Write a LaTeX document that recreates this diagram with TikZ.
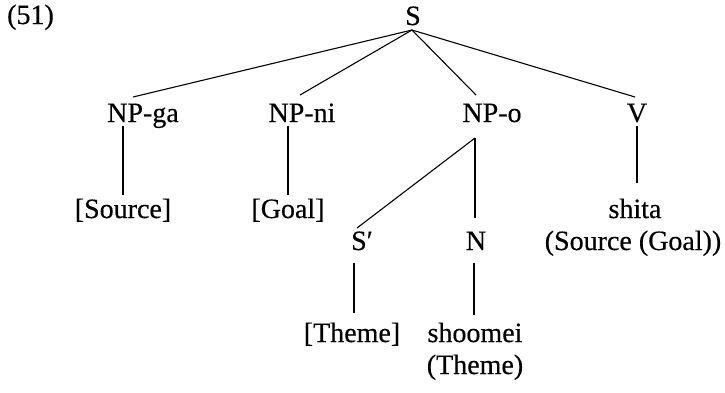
\documentclass[tikz,border=0pt]{standalone}
\usepackage{fontspec}
\setmainfont{Liberation Serif}
\newfontfamily\treefont{Liberation Serif}[FakeBold=0.4]
\begin{document}
\begin{tikzpicture}[x=1pt,y=-1pt,
  lab/.style={inner sep=0pt,anchor=base,font=\treefont\fontsize{28}{33}\selectfont},
  edge/.style={line width=1.1pt,black}]
\useasboundingbox (0,0) rectangle (725,392);
% labels
\node[lab,anchor=base west] (ex) at (7,24) {(51)};
\node[lab] (S) at (413,25) {S};
\node[lab] (npga) at (143,122) {NP-ga};
\node[lab] (npni) at (302,122) {NP-ni};
\node[lab] (npo) at (492,122) {NP-o};
\node[lab] (V) at (637,122) {V};
\node[lab] (src) at (123,218) {[Source]};
\node[lab] (goal) at (288,218) {[Goal]};
\node[lab] (shita) at (635,218) {shita};
\node[lab] (Sp) at (362,250) {S′};
\node[lab] (N) at (476,250) {N};
\node[lab] (sg) at (633,250) {(Source (Goal))};
\node[lab] (theme) at (352,342) {[Theme]};
\node[lab] (shoomei) at (475,342) {shoomei};
\node[lab] (theme2) at (475,374) {(Theme)};
% connector ends
\coordinate (Sa) at (412,30);
\coordinate (gaT) at (133,97);
\coordinate (niT) at (300,95);
\coordinate (oT) at (476,95);
\coordinate (vT) at (635,97);
\coordinate (gaB) at (123,126);
\coordinate (srcT) at (123,195);
\coordinate (niB) at (288,126);
\coordinate (goalT) at (288,195);
\coordinate (vB) at (637,126);
\coordinate (shitaT) at (637,183);
\coordinate (oB) at (475,138);
\coordinate (SpT) at (357,228);
\coordinate (NT) at (475,218);
\coordinate (SpB) at (354,263);
\coordinate (themeT) at (354,313);
\coordinate (NB) at (474,263);
\coordinate (shoomeiT) at (474,315);
% edges
\draw[edge] (Sa) -- (gaT);
\draw[edge] (Sa) -- (niT);
\draw[edge] (Sa) -- (oT);
\draw[edge] (Sa) -- (vT);
\draw[edge] (gaB) -- (srcT);
\draw[edge] (niB) -- (goalT);
\draw[edge] (vB) -- (shitaT);
\draw[edge] (oB) -- (SpT);
\draw[edge] (oB) -- (NT);
\draw[edge] (SpB) -- (themeT);
\draw[edge] (NB) -- (shoomeiT);
\end{tikzpicture}
\end{document}
